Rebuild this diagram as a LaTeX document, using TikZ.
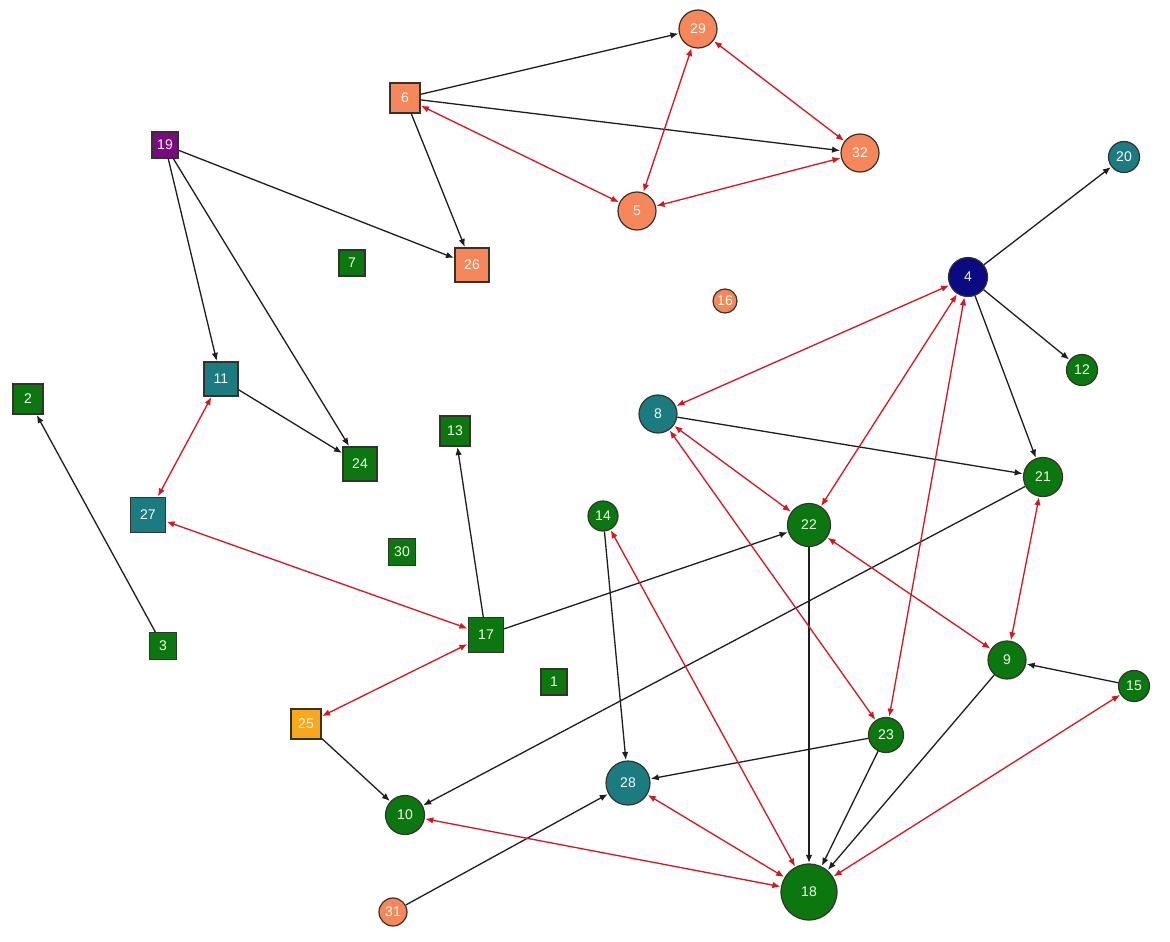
\documentclass[tikz,border=0pt]{standalone}
\usepackage{fontspec}
\setmainfont{Liberation Sans}
\usetikzlibrary{arrows.meta}
\definecolor{salm}{HTML}{F7875A}
\definecolor{grn}{HTML}{0B780F}
\definecolor{tealc}{HTML}{1A7C80}
\definecolor{navyc}{HTML}{0A0A82}
\definecolor{purp}{HTML}{7A0A80}
\definecolor{orng}{HTML}{F8A81A}
\definecolor{bord}{HTML}{33332A}
\definecolor{edgeblk}{HTML}{1E1E1E}
\definecolor{edgered}{HTML}{D8141E}
\definecolor{txt}{HTML}{F4FAF0}
\tikzset{
  base/.style={draw=bord, line width=1.2pt, inner sep=0pt, text=txt, font=\fontsize{14}{16}\selectfont},
  cn/.style={base, circle, minimum size=#1},
  sq/.style={base, rectangle, minimum size=#1},
  ed/.style={draw=edgeblk, line width=1.3pt, -{Latex[length=8pt,width=6.5pt]}, shorten >=0.5pt},
  rd/.style={draw=edgered, line width=1.3pt, {Latex[length=8pt,width=6.5pt]}-{Latex[length=8pt,width=6.5pt]}, shorten >=0.5pt, shorten <=0.5pt},
}
\begin{document}
\begin{tikzpicture}[x=1pt,y=-1pt]
\useasboundingbox[fill=white] (0,0) rectangle (1170,942);
% nodes
\node[cn=38, fill=salm] (n29) at (698,29) {29};
\node[sq=30, fill=salm] (n6) at (405,98) {6};
\node[sq=26, fill=purp] (n19) at (165,145) {19};
\node[cn=38, fill=salm] (n32) at (860,153) {32};
\node[cn=38, fill=salm] (n5) at (637,211) {5};
\node[sq=34, fill=salm] (n26) at (472,265) {26};
\node[sq=26, fill=grn] (n7) at (352,263) {7};
\node[cn=31, fill=tealc] (n20) at (1124,157) {20};
\node[cn=39, fill=navyc] (n4) at (968,277) {4};
\node[cn=24, fill=salm] (n16) at (725,301) {16};
\node[sq=34, fill=tealc] (n11) at (221,379) {11};
\node[sq=30, fill=grn] (n2) at (28,399) {2};
\node[cn=31, fill=grn] (n12) at (1082,370) {12};
\node[cn=38, fill=tealc] (n8) at (658,414) {8};
\node[sq=30, fill=grn] (n13) at (455,431) {13};
\node[sq=34, fill=grn] (n24) at (360,464) {24};
\node[cn=39, fill=grn] (n21) at (1043,477) {21};
\node[sq=35, fill=tealc] (n27) at (148,515) {27};
\node[cn=30, fill=grn] (n14) at (603,516) {14};
\node[cn=43, fill=grn] (n22) at (809,525) {22};
\node[sq=27, fill=grn] (n30) at (402,552) {30};
\node[sq=35, fill=grn] (n17) at (486,635) {17};
\node[sq=27, fill=grn] (n3) at (163,646) {3};
\node[cn=38, fill=grn] (n9) at (1007,660) {9};
\node[cn=31, fill=grn] (n15) at (1134,686) {15};
\node[sq=26, fill=grn] (n1) at (554,682) {1};
\node[sq=30, fill=orng] (n25) at (306,724) {25};
\node[cn=35, fill=grn] (n23) at (886,735) {23};
\node[cn=44, fill=tealc] (n28) at (628,783) {28};
\node[cn=39, fill=grn] (n10) at (405,815) {10};
\node[cn=56, fill=grn] (n18) at (809,892) {18};
\node[cn=28, fill=salm] (n31) at (393,912) {31};
% black edges
\draw[ed] (n6) -- (n29);
\draw[ed] (n6) -- (n32);
\draw[ed] (n6) -- (n26);
\draw[ed] (n19) -- (n26);
\draw[ed] (n19) -- (n11);
\draw[ed] (n19) -- (n24);
\draw[ed] (n11) -- (n24);
\draw[ed] (n3) -- (n2);
\draw[ed] (n17) -- (n13);
\draw[ed] (n17) -- (n22);
\draw[ed] (n25) -- (n10);
\draw[ed] (n4) -- (n20);
\draw[ed] (n4) -- (n12);
\draw[ed] (n4) -- (n21);
\draw[ed] (n8) -- (n21);
\draw[ed] (n21) -- (n10);
\draw[ed] (n22) -- (n18);
\draw[ed] (n14) -- (n28);
\draw[ed] (n15) -- (n9);
\draw[ed] (n9) -- (n18);
\draw[ed] (n23) -- (n28);
\draw[ed] (n23) -- (n18);
\draw[ed] (n31) -- (n28);
% red double edges
\draw[rd] (n6) -- (n5);
\draw[rd] (n29) -- (n5);
\draw[rd] (n29) -- (n32);
\draw[rd] (n32) -- (n5);
\draw[rd] (n11) -- (n27);
\draw[rd] (n27) -- (n17);
\draw[rd] (n17) -- (n25);
\draw[rd] (n4) -- (n8);
\draw[rd] (n4) -- (n22);
\draw[rd] (n4) -- (n23);
\draw[rd] (n8) -- (n22);
\draw[rd] (n8) -- (n23);
\draw[rd] (n21) -- (n9);
\draw[rd] (n22) -- (n9);
\draw[rd] (n14) -- (n18);
\draw[rd] (n15) -- (n18);
\draw[rd] (n28) -- (n18);
\draw[rd] (n10) -- (n18);
\end{tikzpicture}
\end{document}
